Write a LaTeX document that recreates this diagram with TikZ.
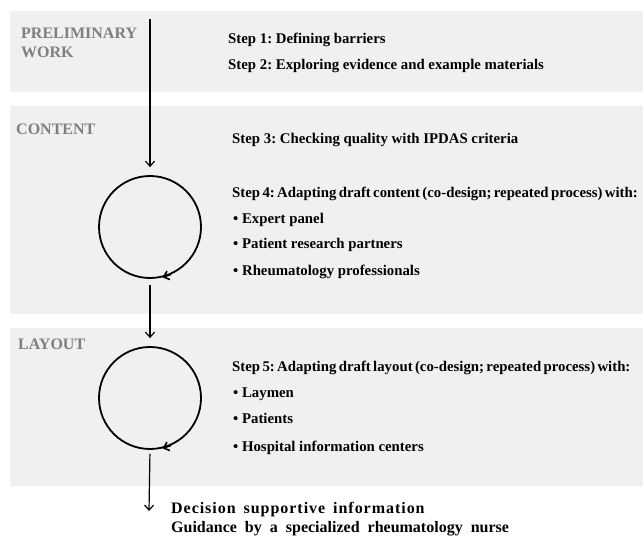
\documentclass[tikz,border=0pt]{standalone}
\usepackage{fontspec}
\setmainfont{Liberation Serif}
\usetikzlibrary{arrows.meta}
\definecolor{bandgray}{RGB}{240,240,240}
\definecolor{labelgray}{RGB}{127,127,127}
\frenchspacing
\begin{document}
\begin{tikzpicture}[x=1pt,y=-1pt,
  band/.style={fill=bandgray, draw=none},
  phase/.style={anchor=base west, inner sep=0pt, font=\fontsize{16}{18}\selectfont\bfseries, text=labelgray},
  steptext/.style={anchor=base west, inner sep=0pt, font=\fontsize{14.8}{17}\selectfont\bfseries},
  outtext/.style={anchor=base west, inner sep=0pt, font=\fontsize{16}{18}\selectfont\bfseries},
  loopnode/.style={circle, draw, line width=1.8pt, minimum size=102pt, inner sep=0pt},
  flow/.style={line width=1.2pt, -{Straight Barb[length=5pt,width=9pt]}},
  looptip/.style={line width=1.6pt, -{Straight Barb[length=5pt,width=9pt]}},
]
\useasboundingbox (0,0) rectangle (643,536);

% bands
\path[band] (10,11) rectangle (643,92);
\path[band] (10,106) rectangle (643,314);
\path[band] (10,328) rectangle (643,486);

% phase labels
\node[phase] (prelimA) at (21,38) {PRELIMINARY};
\node[phase] (prelimB) at (21,57) {WORK};
\node[phase] (content) at (16,134) {CONTENT};
\node[phase] (layout) at (18,349) {LAYOUT};

% steps
\node[steptext] (s1) at (228,43) {Step 1: Defining barriers};
\node[steptext] (s2) at (228,69) {Step 2: Exploring evidence and example materials};
\node[steptext] (s3) at (232,143) {Step 3: Checking quality with IPDAS criteria};
\node[steptext] (s4) at (232,197) {\spaceskip=0.16em Step 4: Adapting draft content (co-design; repeated process) with:};
\node[steptext] (b41) at (233,223) {• Expert panel};
\node[steptext] (b42) at (233,248) {• Patient research partners};
\node[steptext] (b43) at (233,275) {• Rheumatology professionals};
\node[steptext] (s5) at (232,371) {\spaceskip=0.16em Step 5: Adapting draft layout (co-design; repeated process) with:};
\node[steptext] (b51) at (233,397) {• Laymen};
\node[steptext] (b52) at (233,423) {• Patients};
\node[steptext] (b53) at (233,451) {• Hospital information centers};

% output
\node[outtext] (out1) at (171,513) {\addfontfeatures{LetterSpace=6}\spaceskip=0.5em Decision supportive information};
\node[outtext] (out2) at (171,532) {\spaceskip=0.5em Guidance by a specialized rheumatology nurse};

% loops
\node[loopnode] (c1) at (150,227) {};
\node[loopnode] (c2) at (150,398) {};
\draw[looptip] (c1.-66) -- (c1.-76);
\draw[looptip] (c2.-66) -- (c2.-76);

% flow
\coordinate (start) at (150,19);
\coordinate (end) at (149,511);
\draw[flow, shorten >=8pt] (start) -- (c1.north);
\draw[flow, shorten <=6pt, shorten >=8pt] (c1.south) -- (c2.north);
\draw[flow, shorten <=4pt] (c2.south) -- (end);
\end{tikzpicture}
\end{document}
